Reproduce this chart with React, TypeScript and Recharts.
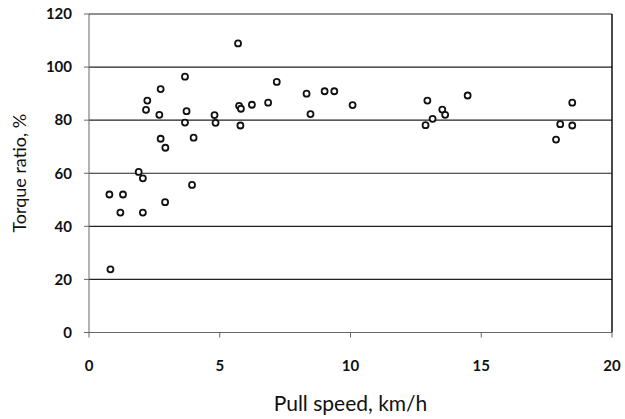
import React from 'react';
import {
  ScatterChart, Scatter, XAxis, YAxis, CartesianGrid, ReferenceLine,
} from 'recharts';

// pull speed (km/h) and torque ratio (%)
const speeds = [
  5.7, 3.67, 2.74, 7.18, 2.23, 2.18, 2.69, 3.73, 3.67, 4.8, 4.84,
  5.74, 5.81, 5.79, 6.23, 6.85, 2.74, 2.92, 4.0, 1.9, 2.06,
  0.78, 1.3, 1.2, 2.06, 2.91, 3.94, 0.82,
  8.32, 8.47, 9.01, 9.38, 10.08, 12.94, 12.87, 13.14, 13.51, 13.62,
  14.48, 18.48, 18.02, 18.48, 17.86,
];
const ratios = [
  108.9, 96.4, 91.7, 94.4, 87.4, 83.9, 82.0, 83.4, 79.1, 81.9, 79.0,
  85.4, 84.3, 78.0, 85.8, 86.6, 73.0, 69.6, 73.4, 60.5, 58.1,
  52.0, 52.0, 45.2, 45.2, 49.1, 55.6, 23.8,
  90.0, 82.3, 90.9, 90.9, 85.7, 87.4, 78.1, 80.5, 84.0, 82.0,
  89.3, 86.6, 78.5, 78.0, 72.7,
];
const xTicks = [0, 5, 10, 15, 20];
const yTicks = [0, 20, 40, 60, 80, 100, 120];

const points = speeds.map((s, i) => ({ speed: s, ratio: ratios[i] }));

const font = 'Lato, "DejaVu Sans", sans-serif';
const tickStyle = { fill: '#111', fontSize: 15, fontWeight: 700, fontFamily: font };

const Ring = (props: any) => (
  <circle cx={props.cx} cy={props.cy} r={3} fill="#fff" stroke="#111" strokeWidth={1.8} />
);

export default function App() {
  return (
    <div style={{ position: 'absolute', left: 0, top: 0, background: '#fff' }}>
      <ScatterChart width={625} height={419} margin={{ top: 14, right: 13, bottom: 0, left: 0 }}>
        <CartesianGrid vertical={false} stroke="#222" strokeWidth={1.2} />
        <XAxis
          type="number"
          dataKey="speed"
          domain={[0, 20]}
          ticks={xTicks}
          height={86.5}
          tickSize={5}
          tickMargin={23}
          stroke="#666"
          tick={tickStyle}
          label={{ value: 'Pull speed, km/h', position: 'insideBottom', offset: 8, fill: '#111', fontSize: 21, fontFamily: font }}
        />
        <YAxis
          type="number"
          dataKey="ratio"
          domain={[0, 120]}
          ticks={yTicks}
          width={89}
          tickSize={5}
          tickMargin={12}
          stroke="#666"
          tick={tickStyle}
          label={{ value: 'Torque ratio, %', angle: -90, position: 'insideLeft', offset: 20, fill: '#111', fontSize: 18, fontFamily: font, style: { textAnchor: 'middle' } }}
        />
        <ReferenceLine x={20} stroke="#111" strokeWidth={1.5} />
        <Scatter data={points} shape={Ring} isAnimationActive={false} />
      </ScatterChart>
    </div>
  );
}
